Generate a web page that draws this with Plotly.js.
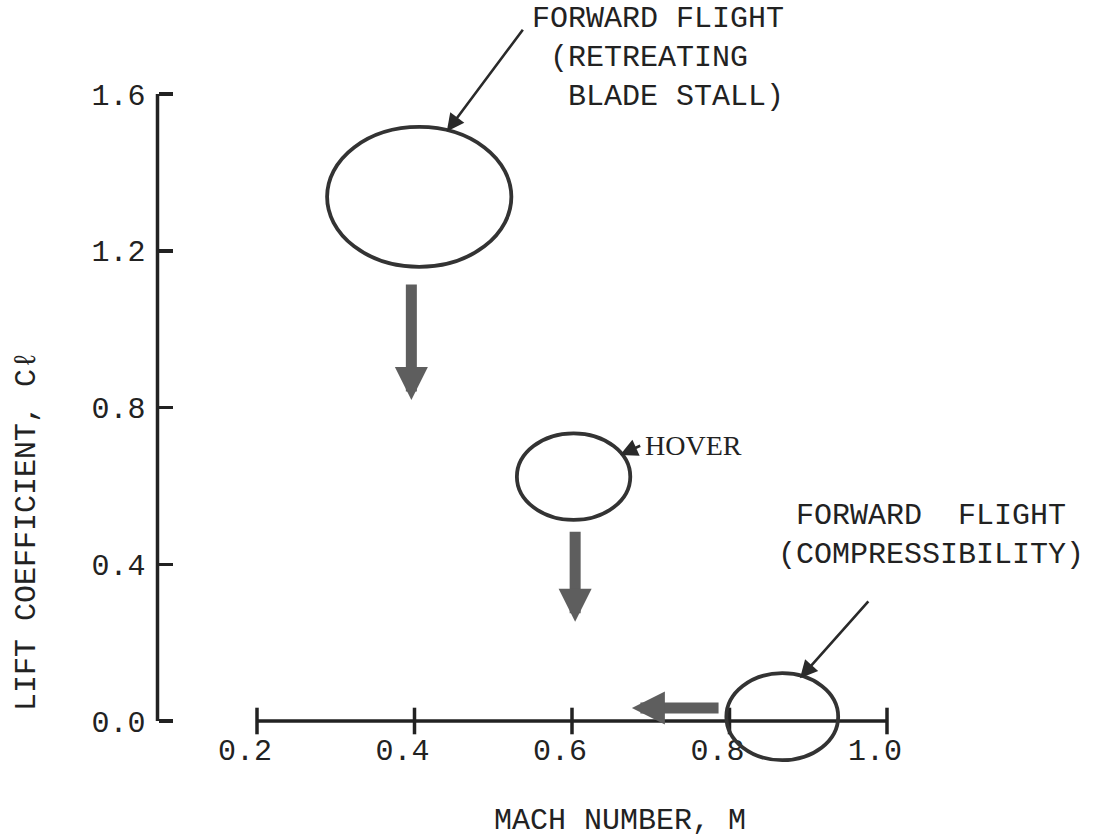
<!DOCTYPE html>
<html>
<head>
<meta charset="utf-8">
<script src="https://cdn.plot.ly/plotly-3.0.1.min.js"></script>
<style>
  html, body { margin: 0; padding: 0; background: #ffffff; }
  #chart { width: 1100px; height: 837px; }
</style>
</head>
<body>
<div id="chart"></div>
<script>
// ---------------- DATA ----------------
const machTicks = [0.2, 0.4, 0.6, 0.8, 1.0];
const machTickText = ['0.2', '0.4', '0.6', '0.8', '1.0'];
const clTicks = [0.0, 0.4, 0.8, 1.2, 1.6];
const clTickText = ['0.0', '0.4', '0.8', '1.2', '1.6'];

// Operating regions (ellipses): Mach and Cl extents
const regionNames = ['FORWARD FLIGHT (RETREATING BLADE STALL)', 'HOVER', 'FORWARD FLIGHT (COMPRESSIBILITY)'];
const regionMachMin = [0.289, 0.530, 0.796];
const regionMachMax = [0.523, 0.674, 0.938];
const regionClMin   = [1.159, 0.513, -0.100];
const regionClMax   = [1.516, 0.734, 0.122];

// Trend arrows (block arrows): tail -> tip
const trendFromMach = [0.396, 0.604, 0.788];
const trendFromCl   = [1.118, 0.487, 0.033];
const trendToMach   = [0.396, 0.604, 0.676];
const trendToCl     = [0.819, 0.253, 0.033];

// Label pointers: tail -> tip (on the ellipse)
const pointerFromMach = [0.539, 0.6885, 0.978];
const pointerFromCl   = [1.768, 0.704, 0.309];
const pointerToMach   = [0.441, 0.661, 0.8895];
const pointerToCl     = [1.504, 0.679, 0.109];

// ---------------- LAYOUT GEOMETRY ----------------
const W = 1100, H = 837;
const PX_LO = 257, PX_HI = 887;   // pixel of Mach 0.2 and 1.0
const PY_ZERO = 721, PY_TOP = 94; // pixel of Cl 0.0 and 1.6
const PX_YAXIS = 157.5;           // pixel column of the Cl axis
const sx = (PX_HI - PX_LO) / (1.0 - 0.2);
const sy = (PY_ZERO - PY_TOP) / 1.6;
const xRange = [0.2 - PX_LO / sx, 0.2 + (W - PX_LO) / sx];
const yRange = [-(H - PY_ZERO) / sy, PY_ZERO / sy];
const X = px => 0.2 + (px - PX_LO) / sx;
const Y = py => (PY_ZERO - py) / sy;

const INK = '#222222';
const MONO = 'Liberation Mono, Courier New, DejaVu Sans Mono, monospace';
const SERIF = 'Liberation Serif, Times New Roman, DejaVu Serif, serif';
const FS = 30;
const NB = '\u00a0';

// ---------------- TRACES ----------------
const traces = [{
  x: machTicks,
  y: machTicks.map(() => 0),
  type: 'scatter',
  mode: 'markers',
  marker: { symbol: 'line-ns', size: 19, line: { width: 3.5, color: INK } },
  hoverinfo: 'skip',
  cliponaxis: false,
  showlegend: false
}];

// ---------------- SHAPES ----------------
const shapes = [
  // Mach axis line
  { type: 'line', xref: 'x', yref: 'y', x0: machTicks[0], x1: machTicks[machTicks.length - 1], y0: 0, y1: 0,
    line: { color: INK, width: 3.5 } },
  // Cl axis line
  { type: 'line', xref: 'paper', yref: 'y', x0: PX_YAXIS / W, x1: PX_YAXIS / W,
    y0: clTicks[0], y1: clTicks[clTicks.length - 1], line: { color: INK, width: 3.5 } }
];
for (let i = 0; i < regionNames.length; i++) {
  shapes.push({
    type: 'circle', xref: 'x', yref: 'y',
    x0: regionMachMin[i], x1: regionMachMax[i], y0: regionClMin[i], y1: regionClMax[i],
    line: { color: '#333333', width: 3.8 }, fillcolor: 'rgba(0,0,0,0)'
  });
}

// ---------------- ANNOTATIONS ----------------
const annotations = [];
// block arrows
for (let i = 0; i < trendFromMach.length; i++) {
  annotations.push({
    xref: 'x', yref: 'y', axref: 'x', ayref: 'y',
    x: trendToMach[i], y: trendToCl[i], ax: trendFromMach[i], ay: trendFromCl[i],
    text: '', showarrow: true, arrowhead: 2, arrowsize: 0.6, arrowwidth: 11,
    arrowcolor: '#5e5e5e', standoff: 0
  });
}
// pointer arrows
for (let i = 0; i < pointerFromMach.length; i++) {
  annotations.push({
    xref: 'x', yref: 'y', axref: 'x', ayref: 'y',
    x: pointerToMach[i], y: pointerToCl[i], ax: pointerFromMach[i], ay: pointerFromCl[i],
    text: '', showarrow: true, arrowhead: 2, arrowsize: 1.35, arrowwidth: 2.6,
    arrowcolor: '#2a2a2a', standoff: 0
  });
}
// text labels
function label(text, px, py, font) {
  return { xref: 'x', yref: 'y', x: X(px), y: Y(py), text: text, showarrow: false,
           xanchor: 'left', yanchor: 'middle', align: 'left',
           font: font || { family: MONO, size: FS, color: INK } };
}
annotations.push(label('FORWARD FLIGHT<br>' + NB + '(RETREATING<br>' + NB + NB + 'BLADE STALL)', 530, 58));
annotations.push(label('HOVER', 643, 445, { family: SERIF, size: 28, color: INK }));
annotations.push(label(NB + 'FORWARD' + NB + NB + 'FLIGHT<br>(COMPRESSIBILITY)', 776, 535));

// axis titles
annotations.push({ xref: 'paper', yref: 'paper', x: 27 / W, y: (H - 531) / H,
  text: 'LIFT COEFFICIENT, C\u2113', textangle: -90, showarrow: false,
  xanchor: 'center', yanchor: 'middle', font: { family: MONO, size: FS, color: INK } });
annotations.push({ xref: 'paper', yref: 'paper', x: 620 / W, y: (H - 821) / H,
  text: 'MACH NUMBER, M', showarrow: false,
  xanchor: 'center', yanchor: 'middle', font: { family: MONO, size: FS, color: INK } });

// ---------------- LAYOUT ----------------
const layout = {
  width: W, height: H,
  margin: { l: 0, r: 0, t: 0, b: 0, pad: 0 },
  paper_bgcolor: '#ffffff', plot_bgcolor: '#ffffff',
  showlegend: false,
  xaxis: {
    range: xRange, domain: [0, 1], anchor: 'free', position: (H - PY_ZERO) / H,
    tickmode: 'array', tickvals: machTicks, ticktext: machTickText,
    ticks: '', showline: false, showgrid: false, zeroline: false,
    ticklabelstandoff: 8, ticklabelshift: -12,
    tickfont: { family: MONO, size: FS, color: INK }, fixedrange: true
  },
  yaxis: {
    range: yRange, domain: [0, 1], anchor: 'free', position: PX_YAXIS / W, side: 'left',
    tickmode: 'array', tickvals: clTicks, ticktext: clTickText,
    ticks: 'inside', ticklen: 14, tickwidth: 3.5, tickcolor: INK,
    showline: false, showgrid: false, zeroline: false,
    ticklabelstandoff: 12,
    tickfont: { family: MONO, size: FS, color: INK }, fixedrange: true
  },
  shapes: shapes,
  annotations: annotations
};

Plotly.newPlot('chart', traces, layout, { displayModeBar: false, staticPlot: true });
</script>
</body>
</html>
